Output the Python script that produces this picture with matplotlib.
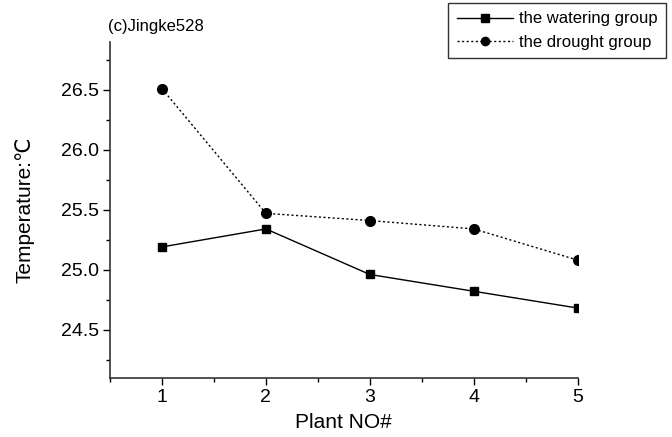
import numpy as np
import matplotlib.pyplot as plt
from matplotlib.ticker import MultipleLocator

plants = [1, 2, 3, 4, 5]
watering = [25.19, 25.34, 24.96, 24.82, 24.68]
drought = [26.51, 25.47, 25.41, 25.34, 25.08]

plt.rcParams['font.family'] = ['Liberation Sans', 'DejaVu Sans']

fig = plt.figure(figsize=(6.72, 4.37), dpi=100)
ax = fig.add_axes([0.1637, 0.136, 0.696, 0.768])

ax.plot(plants, watering, color='black', lw=1, marker='s', ms=6,
        label='the watering group')
ax.plot(plants, drought, color='black', lw=1, ls=(0, (1.5, 1.8)), marker='o', ms=7,
        label='the drought group')

ax.set_xlim(0.5, 5.0)
ax.set_ylim(24.1, 26.9)
ax.xaxis.set_minor_locator(MultipleLocator(0.5))
ax.yaxis.set_minor_locator(MultipleLocator(0.25))
ax.set_yticks([24.5, 25.0, 25.5, 26.0, 26.5])
ax.set_yticklabels(['24.5', '25.0', '25.5', '26.0', '26.5'])
ax.set_xticks(plants)

for s in ['top', 'right']:
    ax.spines[s].set_visible(False)
for s in ['left', 'bottom']:
    ax.spines[s].set_linewidth(1.2)
    ax.spines[s].set_color('#333333')
ax.tick_params(which='major', direction='out', length=5, width=1, labelsize=14, pad=3)
ax.tick_params(which='minor', direction='out', length=3, width=1)

ax.set_xlabel('Plant NO#', fontsize=15, labelpad=5)
ax.set_ylabel('Temperature:℃', fontsize=15, labelpad=19)
fig.text(108 / 672, 1 - 31 / 437, '(c)Jingke528', fontsize=12)

leg = fig.legend(loc='upper right', bbox_to_anchor=(666 / 672, 1 - 3 / 437), fontsize=12,
                 frameon=True, fancybox=False, edgecolor='black', handlelength=3.4,
                 borderpad=0.5, labelspacing=0.5, handletextpad=0.35, borderaxespad=0,
                 markerscale=0.85)
leg.get_frame().set_linewidth(1)

fig.savefig('out.png', dpi=100)
